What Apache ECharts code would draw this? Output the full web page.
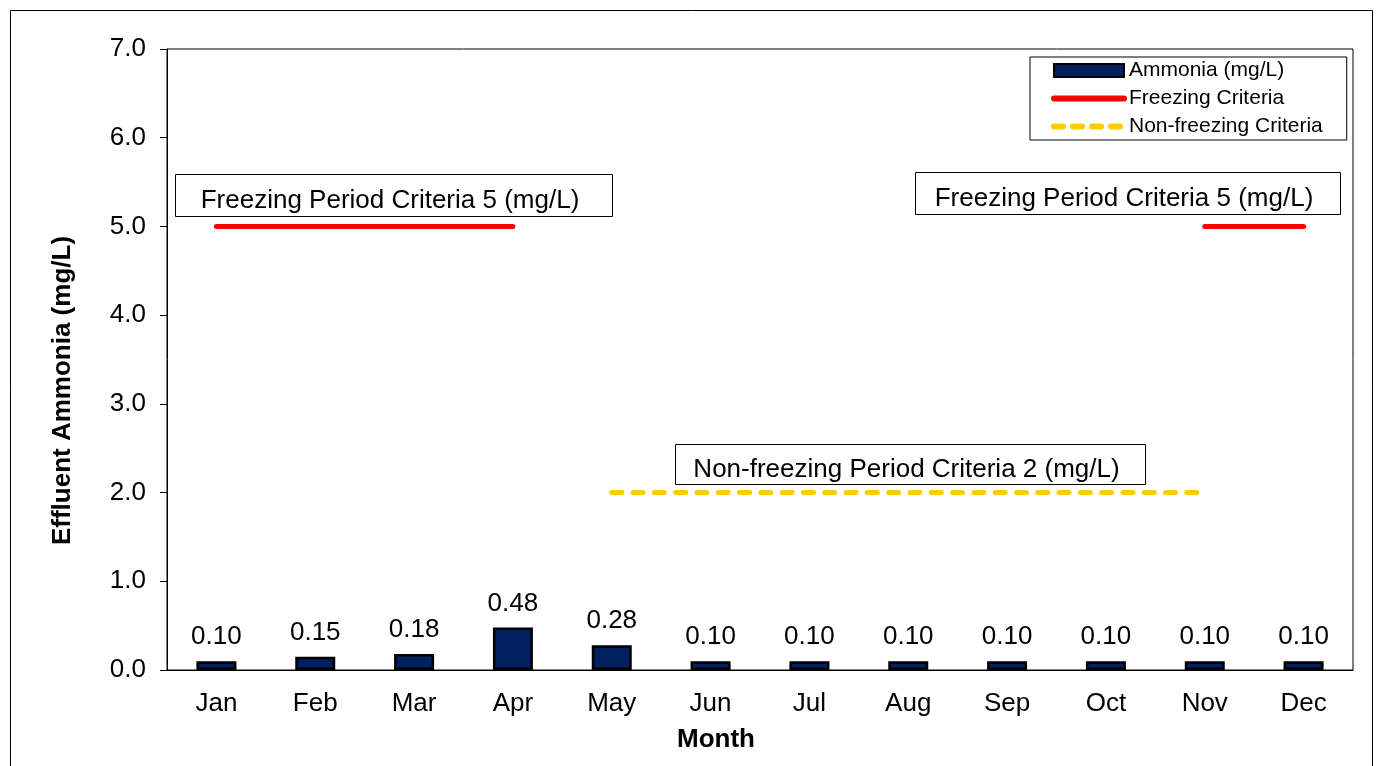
<!DOCTYPE html>
<html>
<head>
<meta charset="utf-8">
<script src="https://cdn.jsdelivr.net/npm/echarts@6/dist/echarts.min.js"></script>
<style>
html,body{margin:0;padding:0;background:#fff;}
#c{width:1381px;height:766px;}
</style>
</head>
<body>
<div id="c"></div>
<script>
var months = ['Jan','Feb','Mar','Apr','May','Jun','Jul','Aug','Sep','Oct','Nov','Dec'];
var ammonia = [0.10,0.15,0.18,0.48,0.28,0.10,0.10,0.10,0.10,0.10,0.10,0.10];
var freezing = [5,5,5,5,null,null,null,null,null,null,5,5];
var nonFreezing = [null,null,null,null,2,2,2,2,2,2,2,null];
var seriesNames = ['Ammonia (mg/L)','Freezing Criteria','Non-freezing Criteria'];
var noteFreezing = 'Freezing Period Criteria 5 (mg/L)';
var noteNonFreezing = 'Non-freezing Period Criteria 2 (mg/L)';

var FONT = '"Liberation Sans", Arial, sans-serif';
var chart = echarts.init(document.getElementById('c'), null, {renderer:'canvas'});

function noteBox(x, y, w, h, txt) {
  return {
    type: 'group', left: x, top: y, z: 50,
    children: [
      {type:'rect', shape:{x:0,y:0,width:w,height:h}, style:{fill:'#fff', stroke:'#000', lineWidth:1}},
      {type:'text', x: w/2 - 4, y: h/2 + 5, style:{text: txt, fill:'#000', font: '26px ' + FONT, textAlign:'center', textVerticalAlign:'middle'}}
    ]
  };
}

chart.setOption({
  animation: false,
  backgroundColor: '#fff',
  textStyle: {fontFamily: FONT},
  grid: {left: 167, top: 49, right: 28, bottom: 96, show: true, borderColor: '#000', borderWidth: 1, backgroundColor: 'transparent'},
  legend: {
    orient: 'vertical', left: 1030, top: 57,
    padding: [3, 24, 3, 21],
    borderColor: '#000', borderWidth: 1, backgroundColor: '#fff',
    itemWidth: 70, itemHeight: 13, itemGap: 7,
    textStyle: {fontSize: 21, color: '#000', fontFamily: FONT},
    data: [
      {name: seriesNames[0], icon: 'rect', itemStyle: {color: '#002060', borderColor: '#000', borderWidth: 2}},
      {name: seriesNames[1], itemStyle: {opacity: 0}, lineStyle: {color: '#FF0000', width: 6, cap: 'round'}},
      {name: seriesNames[2], itemStyle: {opacity: 0}, lineStyle: {color: '#FFCC00', width: 6, type: [9, 10], cap: 'round'}}
    ]
  },
  xAxis: {
    type: 'category', data: months,
    name: 'Month', nameLocation: 'middle', nameGap: 57,
    nameTextStyle: {fontSize: 26, fontWeight: 'bold', color: '#000', fontFamily: FONT, padding: [0, 88, 0, 0]},
    axisLine: {lineStyle: {color: '#000', width: 1}},
    axisTick: {show: false},
    axisLabel: {fontSize: 26, color: '#000', margin: 21, fontFamily: FONT}
  },
  yAxis: {
    type: 'value', min: 0, max: 7, interval: 1,
    name: 'Effluent Ammonia (mg/L)', nameLocation: 'middle', nameGap: 91,
    nameTextStyle: {fontSize: 26, fontWeight: 'bold', color: '#000', fontFamily: FONT, padding: [0, 62, 0, 0]},
    axisLine: {show: true, lineStyle: {color: '#000', width: 1}},
    axisTick: {show: true, inside: false, length: 7, lineStyle: {color: '#000'}},
    splitLine: {show: false},
    axisLabel: {fontSize: 26, color: '#000', margin: 21, fontFamily: FONT, formatter: function(v){return v.toFixed(1);}}
  },
  series: [
    {
      name: seriesNames[0], type: 'bar', data: ammonia, barWidth: 40,
      itemStyle: {color: '#002060', borderColor: '#000', borderWidth: 2.5},
      label: {show: true, position: 'top', distance: 11, fontSize: 26, color: '#000', fontFamily: FONT,
        formatter: function(p){return p.value.toFixed(2);}}
    },
    {
      name: seriesNames[1], type: 'line', data: freezing, symbol: 'none', connectNulls: false,
      itemStyle: {color: '#FF0000'},
      lineStyle: {color: '#FF0000', width: 5, cap: 'round'}
    },
    {
      name: seriesNames[2], type: 'line', data: nonFreezing, symbol: 'none', connectNulls: false,
      itemStyle: {color: '#FFCC00'},
      lineStyle: {color: '#FFCC00', width: 5, type: [10, 11.3], cap: 'round'}
    }
  ],
  graphic: [
    {type:'rect', left: 8, top: 8, z: -10, silent: true, shape:{x:0,y:0,width:1362,height:800}, style:{fill:'none', stroke:'#000', lineWidth:1}},
    noteBox(175, 174, 437, 42, noteFreezing),
    noteBox(915, 172, 425, 42, noteFreezing),
    noteBox(675, 444, 470, 40, noteNonFreezing)
  ]
});
</script>
</body>
</html>
